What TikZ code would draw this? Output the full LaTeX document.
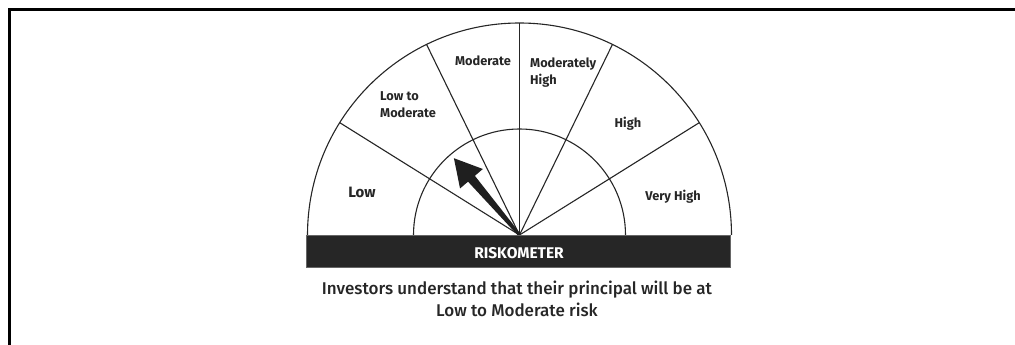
\documentclass[tikz,border=0pt]{standalone}
\usepackage{fontspec}
\setmainfont{Fira Sans}
\newfontfamily\capfont{Fira Sans Medium}
\usetikzlibrary{calc}
\usetikzlibrary{positioning}

\begin{document}
\begin{tikzpicture}[x=1pt,y=1pt,
  dial/.style={line width=1.1pt,draw=black!85},
  seg/.style={font=\bfseries\fontsize{12.8}{17.5}\selectfont,text=black!85,inner sep=0pt},
  bar/.style={fill=black!85,draw=black!60,line width=0.6pt}]

\useasboundingbox (0,0) rectangle (1015,345);
\draw[line width=3pt] (9.5,0) -- (9.5,335) -- (1015,335);

\coordinate (c) at (519.5,110);
\draw[dial] (c) ++(212,0) arc (0:180:212);
\draw[dial] (c) ++(106,0) arc (0:180:106);
\foreach \a in {32,64,90,116,148}
  \draw[dial] (c) -- ++(\a:212);

\fill[black!88,rotate around={130.5:(c)}] ($(c)+(0,-1.5)$) -- ($(c)+(74,-4.5)$) -- ($(c)+(74,-15)$)
  -- ($(c)+(101,0)$) -- ($(c)+(74,15)$) -- ($(c)+(74,4.5)$) -- ($(c)+(0,1.5)$) -- cycle;

\draw[bar] (306,78) rectangle (730,110);
\node[seg,text=white,font=\bfseries\fontsize{15.5}{18}\selectfont] (title) at (519,92) {RISKOMETER};

\node[seg,font=\bfseries\fontsize{15}{18}\selectfont] (low) at (362,153) {Low};
\node[seg,anchor=west,align=left] (lowmod) at (380,240.5) {Low to\\Moderate};
\node[seg] (mod) at (483,284) {Moderate};
\node[seg,anchor=west,align=left] (modhigh) at (530,272.5) {Moderately\\High};
\node[seg] (high) at (628,221) {High};
\node[seg] (vhigh) at (673,148) {Very High};

\node[align=center,text=black!85,font=\capfont\fontsize{17}{22}\selectfont] (caption) at (517,46)
  {Investors understand that their principal will be at\\Low to Moderate risk};

\end{tikzpicture}
\end{document}
